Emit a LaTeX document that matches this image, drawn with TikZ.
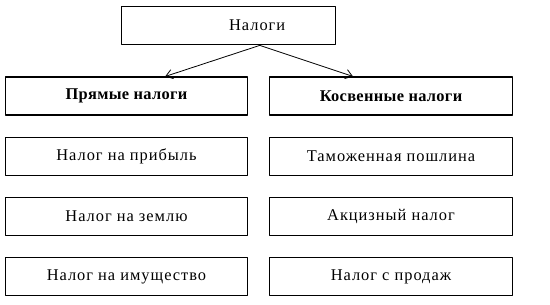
\documentclass[tikz,border=0pt]{standalone}
\usepackage{fontspec}
\setmainfont{Liberation Serif}
\usetikzlibrary{arrows.meta}
\tikzset{
  taxbox/.style={draw, line width=0.8pt, minimum width=182pt, minimum height=28.5pt,
    inner sep=0pt, font=\fontsize{12.3}{14}\selectfont\addfontfeatures{LetterSpace=6}},
  kindbox/.style={taxbox, font=\fontsize{12.3}{14}\selectfont\bfseries\addfontfeatures{LetterSpace=2}},
  taxarrow/.style={-{Straight Barb[length=5pt,width=7pt]}, line width=0.6pt}
}
\begin{document}
\begin{tikzpicture}[x=0.75pt, y=-0.75pt, line cap=round, line join=round]
    \useasboundingbox (0,0) rectangle (550,304);
    % Top box, text sits right of centre
    \node[taxbox, minimum width=161pt, minimum height=29pt] (tax) at (228.5,25.5) {\hspace*{43pt}Налоги};
    % Two kinds of taxes
    \node[kindbox] (direct) at (126.5,96) {Прямые налоги};
    \node[kindbox] (indirect) at (391,96) {Косвенные налоги};
    % Direct taxes
    \node[taxbox] (profit) at (126.5,156.5) {Налог на прибыль};
    \node[taxbox] (land) at (126.5,216.5) {Налог на землю};
    \node[taxbox] (property) at (126.5,276.5) {Налог на имущество};
    % Indirect taxes
    \node[taxbox] (customs) at (391,156.5) {Таможенная пошлина};
    \node[taxbox] (excise) at (391,216.5) {Акцизный налог};
    \node[taxbox] (sales) at (391,276.5) {Налог с продаж};
    % Arrows
    \coordinate (split) at ([xshift=23.5pt]tax.south);
    \draw[taxarrow] (split) -- ([xshift=29pt]direct.north);
    \draw[taxarrow] (split) -- ([xshift=-28.5pt]indirect.north);
  \end{tikzpicture}
\end{document}
